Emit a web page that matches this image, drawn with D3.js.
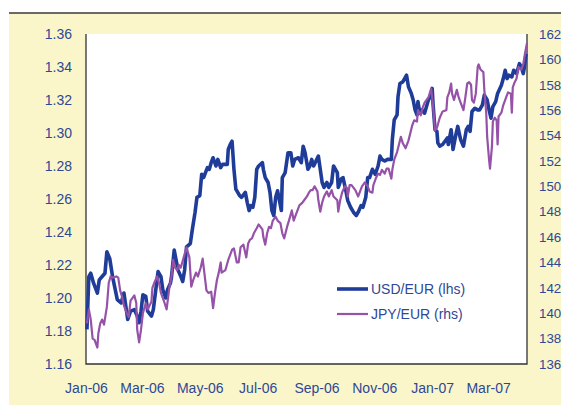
<!DOCTYPE html>
<html><head><meta charset="utf-8">
<script src="https://cdn.jsdelivr.net/npm/d3@7"></script>
<style>html,body{margin:0;padding:0;background:#fff;}svg{display:block;}</style>
</head><body>
<script>
const usdDates = ["2006-01-02","2006-01-04","2006-01-06","2006-01-09","2006-01-13","2006-01-15","2006-01-18","2006-01-21","2006-01-23","2006-01-26","2006-01-29","2006-02-03","2006-02-07","2006-02-10","2006-02-12","2006-02-14","2006-02-17","2006-02-21","2006-02-24","2006-02-26","2006-02-28","2006-03-02","2006-03-05","2006-03-07","2006-03-11","2006-03-13","2006-03-16","2006-03-18","2006-03-21","2006-03-23","2006-03-26","2006-03-28","2006-03-31","2006-04-01","2006-04-04","2006-04-06","2006-04-08","2006-04-11","2006-04-13","2006-04-15","2006-04-17","2006-04-21","2006-04-23","2006-04-26","2006-04-28","2006-05-01","2006-05-03","2006-05-05","2006-05-09","2006-05-11","2006-05-13","2006-05-15","2006-05-18","2006-05-20","2006-05-23","2006-05-25","2006-05-30","2006-05-31","2006-06-02","2006-06-04","2006-06-06","2006-06-08","2006-06-10","2006-06-12","2006-06-14","2006-06-18","2006-06-20","2006-06-22","2006-06-24","2006-06-26","2006-06-28","2006-06-30","2006-07-02","2006-07-06","2006-07-07","2006-07-09","2006-07-12","2006-07-14","2006-07-16","2006-07-18","2006-07-20","2006-07-22","2006-07-26","2006-07-27","2006-07-30","2006-08-02","2006-08-05","2006-08-07","2006-08-09","2006-08-13","2006-08-16","2006-08-18","2006-08-20","2006-08-23","2006-08-25","2006-08-27","2006-08-29","2006-09-03","2006-09-05","2006-09-07","2006-09-09","2006-09-12","2006-09-14","2006-09-17","2006-09-19","2006-09-23","2006-09-24","2006-09-27","2006-09-29","2006-10-02","2006-10-04","2006-10-07","2006-10-10","2006-10-13","2006-10-15","2006-10-18","2006-10-20","2006-10-23","2006-10-25","2006-10-27","2006-10-30","2006-11-02","2006-11-05","2006-11-07","2006-11-09","2006-11-12","2006-11-15","2006-11-19","2006-11-20","2006-11-22","2006-11-25","2006-11-26","2006-11-28","2006-12-01","2006-12-05","2006-12-07","2006-12-10","2006-12-12","2006-12-14","2006-12-16","2006-12-17","2006-12-19","2006-12-21","2006-12-24","2006-12-28","2006-12-30","2007-01-01","2007-01-02","2007-01-04","2007-01-06","2007-01-07","2007-01-09","2007-01-12","2007-01-17","2007-01-18","2007-01-21","2007-01-23","2007-01-26","2007-01-28","2007-01-31","2007-02-03","2007-02-06","2007-02-08","2007-02-10","2007-02-12","2007-02-15","2007-02-18","2007-02-20","2007-02-23","2007-02-25","2007-02-28","2007-03-02","2007-03-04","2007-03-06","2007-03-09","2007-03-11","2007-03-15","2007-03-17","2007-03-19","2007-03-21","2007-03-23","2007-03-26","2007-03-28","2007-03-31","2007-04-03","2007-04-05","2007-04-07","2007-04-08","2007-04-10"];
const usdValues = [1.181,1.213,1.215,1.209,1.203,1.211,1.213,1.215,1.228,1.224,1.213,1.199,1.197,1.203,1.195,1.187,1.192,1.193,1.189,1.185,1.192,1.202,1.201,1.192,1.189,1.193,1.207,1.216,1.213,1.205,1.200,1.205,1.209,1.212,1.229,1.223,1.217,1.213,1.210,1.217,1.231,1.233,1.241,1.252,1.261,1.262,1.275,1.273,1.279,1.278,1.282,1.285,1.280,1.284,1.279,1.281,1.281,1.290,1.293,1.295,1.278,1.266,1.264,1.262,1.261,1.264,1.258,1.253,1.256,1.255,1.261,1.278,1.280,1.282,1.278,1.273,1.270,1.264,1.253,1.250,1.261,1.265,1.253,1.273,1.276,1.288,1.288,1.280,1.284,1.285,1.282,1.292,1.288,1.278,1.280,1.284,1.280,1.286,1.278,1.270,1.267,1.270,1.267,1.270,1.280,1.276,1.267,1.272,1.273,1.265,1.259,1.255,1.252,1.250,1.252,1.256,1.255,1.261,1.273,1.273,1.278,1.275,1.280,1.286,1.284,1.283,1.284,1.284,1.296,1.308,1.311,1.322,1.330,1.331,1.335,1.328,1.324,1.320,1.314,1.311,1.319,1.312,1.314,1.312,1.320,1.322,1.327,1.317,1.302,1.301,1.294,1.292,1.293,1.297,1.293,1.302,1.290,1.299,1.304,1.296,1.292,1.302,1.304,1.301,1.313,1.315,1.314,1.314,1.317,1.323,1.320,1.314,1.309,1.316,1.319,1.324,1.329,1.333,1.338,1.333,1.335,1.334,1.338,1.336,1.342,1.340,1.336,1.339,1.348];

const jpyDates = ["2006-01-02","2006-01-04","2006-01-06","2006-01-08","2006-01-10","2006-01-13","2006-01-14","2006-01-16","2006-01-18","2006-01-20","2006-01-23","2006-01-25","2006-01-27","2006-01-29","2006-02-02","2006-02-04","2006-02-06","2006-02-08","2006-02-10","2006-02-13","2006-02-15","2006-02-17","2006-02-21","2006-02-23","2006-02-24","2006-02-26","2006-02-28","2006-03-02","2006-03-05","2006-03-07","2006-03-11","2006-03-12","2006-03-14","2006-03-17","2006-03-19","2006-03-21","2006-03-24","2006-03-27","2006-03-30","2006-04-01","2006-04-03","2006-04-05","2006-04-07","2006-04-09","2006-04-11","2006-04-14","2006-04-17","2006-04-20","2006-04-22","2006-04-24","2006-04-27","2006-04-29","2006-05-02","2006-05-04","2006-05-08","2006-05-10","2006-05-13","2006-05-15","2006-05-17","2006-05-19","2006-05-21","2006-05-23","2006-05-24","2006-05-28","2006-05-31","2006-06-02","2006-06-04","2006-06-06","2006-06-09","2006-06-11","2006-06-13","2006-06-16","2006-06-19","2006-06-21","2006-06-23","2006-06-25","2006-06-27","2006-06-30","2006-07-02","2006-07-06","2006-07-07","2006-07-09","2006-07-11","2006-07-13","2006-07-15","2006-07-17","2006-07-20","2006-07-22","2006-07-25","2006-07-27","2006-07-29","2006-08-01","2006-08-03","2006-08-06","2006-08-08","2006-08-11","2006-08-14","2006-08-17","2006-08-19","2006-08-22","2006-08-24","2006-08-26","2006-08-28","2006-08-30","2006-09-02","2006-09-03","2006-09-05","2006-09-07","2006-09-09","2006-09-12","2006-09-14","2006-09-17","2006-09-19","2006-09-23","2006-09-24","2006-09-26","2006-09-28","2006-10-01","2006-10-03","2006-10-04","2006-10-06","2006-10-08","2006-10-12","2006-10-15","2006-10-17","2006-10-19","2006-10-22","2006-10-25","2006-10-27","2006-10-30","2006-10-31","2006-11-03","2006-11-05","2006-11-07","2006-11-09","2006-11-12","2006-11-14","2006-11-16","2006-11-19","2006-11-20","2006-11-22","2006-11-25","2006-11-27","2006-11-29","2006-12-01","2006-12-04","2006-12-07","2006-12-09","2006-12-11","2006-12-13","2006-12-16","2006-12-17","2006-12-20","2006-12-22","2006-12-24","2006-12-28","2006-12-31","2007-01-02","2007-01-04","2007-01-06","2007-01-09","2007-01-12","2007-01-16","2007-01-17","2007-01-19","2007-01-21","2007-01-22","2007-01-24","2007-01-27","2007-01-29","2007-01-31","2007-02-03","2007-02-05","2007-02-07","2007-02-09","2007-02-11","2007-02-12","2007-02-14","2007-02-16","2007-02-18","2007-02-19","2007-02-21","2007-02-24","2007-02-25","2007-02-27","2007-02-28","2007-03-02","2007-03-03","2007-03-05","2007-03-06","2007-03-08","2007-03-10","2007-03-11","2007-03-12","2007-03-15","2007-03-17","2007-03-20","2007-03-22","2007-03-25","2007-03-26","2007-03-27","2007-03-29","2007-03-31","2007-04-02","2007-04-05","2007-04-07","2007-04-09","2007-04-11"];
const jpyValues = [139.2,140.3,139.5,138.0,137.9,137.3,138.4,139.2,139.5,139.1,140.5,142.4,142.9,142.8,142.9,142.8,141.8,141.3,140.6,140.0,139.7,141.0,141.4,140.8,138.7,137.7,138.7,140.0,140.8,140.3,140.9,142.0,142.4,142.9,142.4,141.6,141.0,140.3,142.1,142.8,144.2,143.6,143.4,143.8,143.6,144.4,145.2,144.4,142.1,142.6,143.2,142.9,143.6,144.3,141.8,141.6,141.7,140.4,141.6,142.6,143.2,144.0,143.2,143.4,144.2,144.6,145.0,145.1,144.0,144.0,145.2,145.4,144.4,145.5,145.8,145.9,146.3,146.7,147.0,146.6,146.0,145.4,146.3,146.8,146.7,147.3,147.6,147.3,147.1,146.3,145.9,146.8,147.3,148.1,147.3,147.9,148.5,148.7,148.9,149.2,149.5,149.7,149.7,150.0,149.6,148.9,148.0,148.7,149.2,149.6,149.2,149.7,149.2,148.9,148.0,148.9,149.5,150.0,149.9,149.2,150.1,150.1,149.7,149.2,149.6,150.0,150.3,150.0,149.6,149.5,150.1,150.7,151.0,150.9,151.3,151.0,151.4,151.4,150.6,151.3,152.1,152.7,153.3,153.9,153.4,153.0,153.6,154.2,154.8,155.2,155.1,156.0,155.6,156.2,156.6,157.0,157.7,156.3,154.4,154.6,155.4,155.9,156.0,157.0,157.4,158.1,157.3,156.8,157.6,157.0,156.6,156.0,157.0,158.1,158.2,158.0,156.8,156.6,157.3,159.4,159.6,159.2,159.0,157.6,155.8,153.9,152.1,151.4,153.1,155.1,155.4,155.2,153.3,155.5,155.8,156.4,157.0,157.4,157.3,155.8,157.8,158.2,158.5,159.4,159.2,159.6,160.5,161.3];

const leftTicks = [1.16,1.18,1.20,1.22,1.24,1.26,1.28,1.30,1.32,1.34,1.36];
const rightTicks = [136,138,140,142,144,146,148,150,152,154,156,158,160,162];
const xTickDates = ["2006-01-01","2006-03-01","2006-05-01","2006-07-01","2006-09-01","2006-11-01","2007-01-01","2007-03-01"];
const seriesNames = ["USD/EUR (lhs)","JPY/EUR (rhs)"];

const W = 561, H = 405;
const L = 86, R = 527, T = 34, B = 364;
const textColor = "#2E4896";
const usdColor = "#1F3D98";
const jpyColor = "#9552A8";
const parse = d3.timeParse("%Y-%m-%d");

const svg = d3.select("body").append("svg").attr("width", W).attr("height", H)
  .style("font-family", "'Liberation Sans', Arial, sans-serif");

svg.append("rect").attr("x", 9).attr("y", 13).attr("width", W - 9).attr("height", H - 13).attr("fill", "#FAF6CA");
svg.append("line").attr("x1", 9).attr("x2", W).attr("y1", 13).attr("y2", 13).attr("stroke", "#3a3a3a").attr("stroke-width", 1.5);
svg.append("rect").attr("x", L).attr("y", T).attr("width", R - L).attr("height", B - T).attr("fill", "#fff");

const x = d3.scaleTime().domain([parse("2006-01-01"), parse("2007-04-11")]).range([L, R]);
const yL = d3.scaleLinear().domain([1.16, 1.36]).range([B, T]);
const yR = d3.scaleLinear().domain([136, 162]).range([B, T]);

// axes
const axL = svg.append("g").attr("transform", `translate(${L},0)`)
  .call(d3.axisLeft(yL).tickValues(leftTicks).tickFormat(d3.format(".2f")).tickSize(0).tickPadding(14));
const axR = svg.append("g").attr("transform", `translate(${R},0)`)
  .call(d3.axisRight(yR).tickValues(rightTicks).tickFormat(d3.format("d")).tickSize(0).tickPadding(12));
const fmt = d3.timeFormat("%b-%y");
const axB = svg.append("g").attr("transform", `translate(0,${B})`)
  .call(d3.axisBottom(x).tickValues(xTickDates.map(parse)).tickFormat(fmt).tickSize(0).tickPadding(19));
[axL, axB].forEach(g => {
  g.select(".domain").remove();
  g.selectAll("text").attr("fill", textColor).style("font-size", "14px")
    .style("font-family", "'Liberation Sans', Arial, sans-serif");
});
axR.select(".domain").remove();
axR.selectAll("text").attr("fill", textColor).style("font-size", "13.3px")
  .style("font-family", "'Liberation Sans', Arial, sans-serif");

// plot borders (left, bottom, right)
svg.append("path").attr("d", `M${L},${T}V${B}H${R}V${T}`).attr("fill", "none")
  .attr("stroke", "#333").attr("stroke-width", 1.3);

const usd = usdDates.map((d, i) => ({d: parse(d), v: usdValues[i]}));
const jpy = jpyDates.map((d, i) => ({d: parse(d), v: jpyValues[i]}));

svg.append("path").datum(usd)
  .attr("d", d3.line().x(p => x(p.d)).y(p => yL(p.v)))
  .attr("fill", "none").attr("stroke", usdColor).attr("stroke-width", 3.6).attr("stroke-linejoin", "round");
svg.append("path").datum(jpy)
  .attr("d", d3.line().x(p => x(p.d)).y(p => yR(p.v)))
  .attr("fill", "none").attr("stroke", jpyColor).attr("stroke-width", 2.2).attr("stroke-linejoin", "round");

// legend
const leg = [{name: seriesNames[0], c: usdColor, w: 3.6, y: 289}, {name: seriesNames[1], c: jpyColor, w: 2.2, y: 314}];
leg.forEach(l => {
  svg.append("line").attr("x1", 337).attr("x2", 368).attr("y1", l.y).attr("y2", l.y)
    .attr("stroke", l.c).attr("stroke-width", l.w);
  svg.append("text").attr("x", 371).attr("y", l.y).attr("dy", "0.35em").attr("fill", textColor)
    .style("font-size", "14px").text(l.name);
});
</script>
</body></html>
